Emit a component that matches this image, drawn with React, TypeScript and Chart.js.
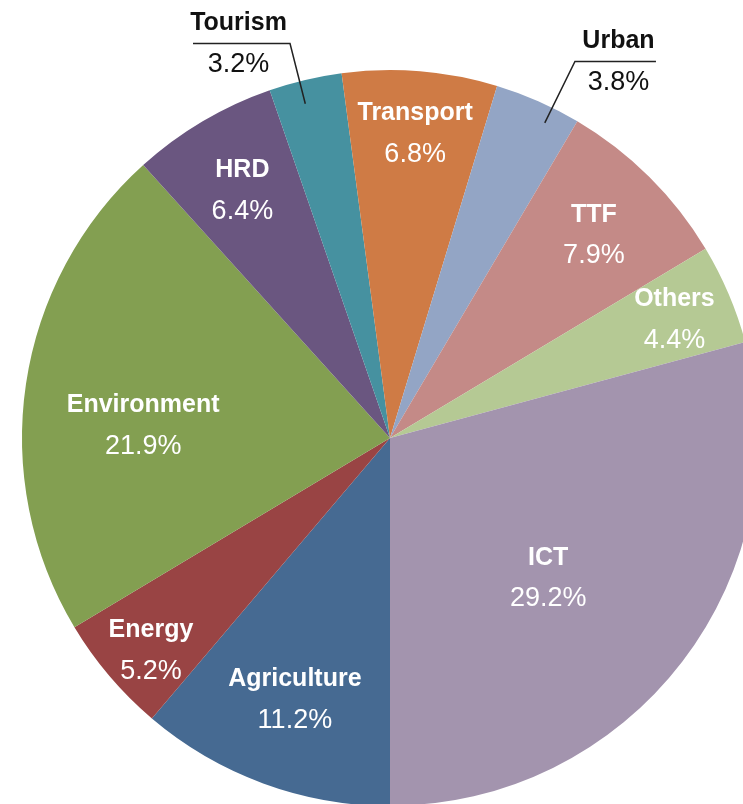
import React, { useEffect, useRef } from "react";
import { Chart, registerables } from "chart.js";

Chart.register(...registerables);

const categories = ["Agriculture", "Energy", "Environment", "HRD", "Tourism", "Transport", "Urban", "TTF", "Others", "ICT"];
const shares = [11.2, 5.2, 21.9, 6.4, 3.2, 6.8, 3.8, 7.9, 4.4, 29.2];
const pctLabels = ["11.2%", "5.2%", "21.9%", "6.4%", "3.2%", "6.8%", "3.8%", "7.9%", "4.4%", "29.2%"];
const colors = ["#466a92", "#994444", "#839f51", "#6a5680", "#4691a0", "#cf7b45", "#93a5c5", "#c48a87", "#b5c994", "#a394ae"];

// label placement styles (fraction of radius, angular shift in degrees, outside with leader)
const labelRadius = [0.75, 0.865, 0.672, 0.788, 0.937, 0.837, 0.954, 0.786, 0.84, 0.57];
const labelShift = [0, -1.0, -5, 0, -0.9, 0, 2.4, 0, 0, 3.6];
const outsideSide = [0, 0, 0, 0, -1, 0, 1, 0, 0, 0];
const elbowRadius = [0, 0, 0, 0, 1.106, 0, 1.14, 0, 0, 0];
const leaderLength = [0, 0, 0, 0, 97, 0, 81, 0, 0, 0];

const FONT = "'Liberation Sans', Arial, Helvetica, sans-serif";
const NAME_SIZE = 25;
const PCT_SIZE = 27;

function drawCentered(ctx: CanvasRenderingContext2D, text: string, x: number, cy: number, size: number, bold: boolean, color: string) {
  ctx.font = `${bold ? "bold " : ""}${size}px ${FONT}`;
  ctx.fillStyle = color;
  ctx.textAlign = "center";
  ctx.textBaseline = "alphabetic";
  ctx.fillText(text, x, cy + size * 0.716 / 2);
}

const labelPlugin = {
  id: "sliceLabels",
  afterDatasetsDraw(chart: any) {
    const ctx: CanvasRenderingContext2D = chart.ctx;
    const meta = chart.getDatasetMeta(0);
    meta.data.forEach((arc: any, i: number) => {
      const { x, y, startAngle, endAngle, outerRadius } = arc.getProps(["x", "y", "startAngle", "endAngle", "outerRadius"], true);
      const mid = (startAngle + endAngle) / 2 + (labelShift[i] * Math.PI) / 180;
      const cos = Math.cos(mid);
      const sin = Math.sin(mid);
      ctx.save();
      if (outsideSide[i] === 0) {
        const r = outerRadius * labelRadius[i];
        const lx = x + cos * r;
        const ly = y + sin * r;
        drawCentered(ctx, categories[i], lx, ly - 20, NAME_SIZE, true, "#ffffff");
        drawCentered(ctx, pctLabels[i], lx, ly + 21, PCT_SIZE, false, "#ffffff");
      } else {
        const r0 = outerRadius * labelRadius[i];
        const r1 = outerRadius * elbowRadius[i];
        const sx = x + cos * r0;
        const sy = y + sin * r0;
        const ex = x + cos * r1;
        const ey = y + sin * r1;
        const hx = ex + outsideSide[i] * leaderLength[i];
        ctx.strokeStyle = "#222222";
        ctx.lineWidth = 1.5;
        ctx.beginPath();
        ctx.moveTo(sx, sy);
        ctx.lineTo(ex, ey);
        ctx.lineTo(hx, ey);
        ctx.stroke();
        const tx = (ex + hx) / 2 + outsideSide[i] * 3;
        drawCentered(ctx, categories[i], tx, ey - 22, NAME_SIZE, true, "#111111");
        drawCentered(ctx, pctLabels[i], tx, ey + 19, PCT_SIZE, false, "#111111");
      }
      ctx.restore();
    });
  },
};

export default function App() {
  const canvasRef = useRef<HTMLCanvasElement | null>(null);

  useEffect(() => {
    if (!canvasRef.current) return;
    const chart = new Chart(canvasRef.current, {
      type: "pie",
      data: {
        labels: categories,
        datasets: [
          {
            data: shares,
            backgroundColor: colors,
            borderWidth: 0,
          },
        ],
      },
      options: {
        responsive: false,
        animation: false,
        devicePixelRatio: 1,
        rotation: 180,
        layout: { padding: { left: 22, top: 70, right: 42, bottom: 74 } },
        plugins: {
          legend: { display: false },
          tooltip: { enabled: false },
        },
      },
      plugins: [labelPlugin],
    });
    return () => chart.destroy();
  }, []);

  return (
    <div style={{ position: "fixed", left: 0, top: 0, width: 743, height: 804, overflow: "hidden", background: "#ffffff" }}>
      <canvas ref={canvasRef} width={800} height={880} style={{ width: 800, height: 880, display: "block" }} />
    </div>
  );
}
